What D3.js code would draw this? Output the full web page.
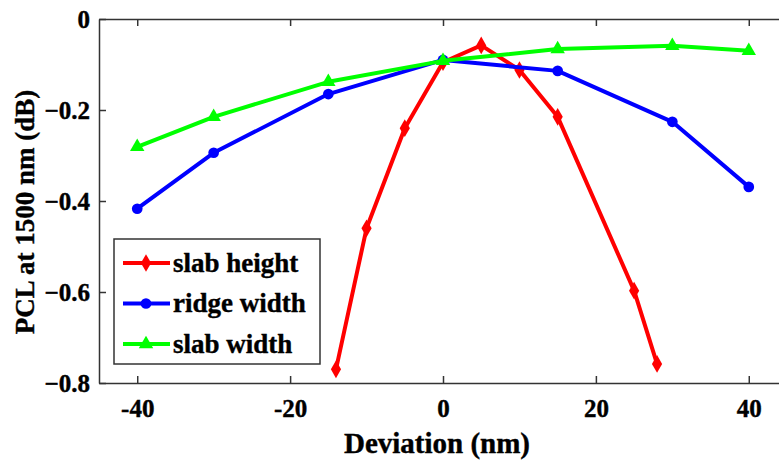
<!DOCTYPE html>
<html>
<head>
<meta charset="utf-8">
<script src="https://cdn.jsdelivr.net/npm/d3@7"></script>
<style>
  body { margin: 0; background: #fff; }
  svg text { font-family: "Liberation Serif", "Times New Roman", serif; font-weight: bold; fill: #000;
             stroke: #000; stroke-width: 0.4px; }
</style>
</head>
<body>
<svg id="chart" width="779" height="464"></svg>
<script>
// deviation (nm) and PCL (dB) for each swept parameter
var slabHeightX = [-14, -10, -5, 0, 5, 10, 15, 25, 28];
var slabHeightY = [-0.77, -0.46, -0.24, -0.095, -0.058, -0.112, -0.215, -0.597, -0.758];
var ridgeWidthX = [-40, -30, -15, 0, 15, 30, 40];
var ridgeWidthY = [-0.417, -0.294, -0.165, -0.09, -0.114, -0.226, -0.369];
var slabWidthX = [-40, -30, -15, 0, 15, 30, 40];
var slabWidthY = [-0.281, -0.215, -0.138, -0.092, -0.066, -0.059, -0.07];
var seriesNames = ["slab height", "ridge width", "slab width"];
var xTicks = [-40, -20, 0, 20, 40];
var yTicks = [0, -0.2, -0.4, -0.6, -0.8];

var series = [
  {name: seriesNames[0], color: "#ff0000", symbol: d3.symbolDiamond, x: slabHeightX, y: slabHeightY},
  {name: seriesNames[1], color: "#0000ff", symbol: d3.symbolCircle, x: ridgeWidthX, y: ridgeWidthY},
  {name: seriesNames[2], color: "#00ff00", symbol: d3.symbolTriangle, x: slabWidthX, y: slabWidthY}
];

var margin = {top: 19, left: 99, bottom: 383, right: 787};

const svg = d3.select("#chart");

const x = d3.scaleLinear().domain([-45, 45]).range([margin.left, margin.right]);
const y = d3.scaleLinear().domain([-0.8, 0]).range([margin.bottom, margin.top]);

// axes with inward ticks, top and bottom
svg.append("g")
  .attr("transform", `translate(0,${margin.bottom})`)
  .call(d3.axisBottom(x).tickValues(xTicks).tickSizeInner(-7).tickSizeOuter(0).tickPadding(16)
    .tickFormat(d => d))
  .call(g => g.selectAll("text").style("font-size", "25px"));

svg.append("g")
  .attr("transform", `translate(0,${margin.top})`)
  .call(d3.axisTop(x).tickValues(xTicks).tickSizeInner(-7).tickSizeOuter(0).tickFormat(""));

svg.append("g")
  .attr("transform", `translate(${margin.left},0)`)
  .call(d3.axisLeft(y).tickValues(yTicks).tickSizeInner(-7).tickSizeOuter(0).tickPadding(9)
    .tickFormat(d => d === 0 ? "0" : d3.format(".1f")(d)))
  .call(g => g.selectAll("text").style("font-size", "25px"));

svg.selectAll(".domain, .tick line").attr("stroke", "#333").attr("stroke-width", 1.5);

// lines and markers
const line = d3.line().x(d => x(d[0])).y(d => y(d[1]));

series.forEach(function(s) {
  var pts = s.x.map((v, i) => [v, s.y[i]]);
  svg.append("path")
    .datum(pts)
    .attr("fill", "none")
    .attr("stroke", s.color)
    .attr("stroke-width", 4)
    .attr("stroke-linejoin", "round")
    .attr("d", line);
  svg.selectAll(null)
    .data(pts)
    .join("path")
    .attr("transform", d => `translate(${x(d[0])},${y(d[1])})`)
    .attr("d", d3.symbol().type(s.symbol).size(90))
    .attr("fill", s.color);
});

// legend
const legend = svg.append("g");
legend.append("rect")
  .attr("x", 114).attr("y", 239)
  .attr("width", 206).attr("height", 125)
  .attr("fill", "#fff").attr("stroke", "#333").attr("stroke-width", 1.5);

series.forEach(function(s, i) {
  var ly = 263 + i * 40.5;
  legend.append("line")
    .attr("x1", 123).attr("x2", 170).attr("y1", ly).attr("y2", ly)
    .attr("stroke", s.color).attr("stroke-width", 4);
  legend.append("path")
    .attr("transform", `translate(146,${ly})`)
    .attr("d", d3.symbol().type(s.symbol).size(90))
    .attr("fill", s.color);
  legend.append("text")
    .attr("x", 173).attr("y", ly)
    .attr("dy", "0.32em")
    .style("font-size", "27px")
    .text(s.name);
});

// axis titles
svg.append("text")
  .attr("x", 437).attr("y", 443)
  .attr("dy", "0.35em")
  .attr("text-anchor", "middle")
  .style("font-size", "29px")
  .text("Deviation (nm)");

svg.append("text")
  .attr("transform", "translate(25,212) rotate(-90)")
  .attr("dy", "0.35em")
  .attr("text-anchor", "middle")
  .style("font-size", "27px")
  .text("PCL at 1500 nm (dB)");
</script>
</body>
</html>
